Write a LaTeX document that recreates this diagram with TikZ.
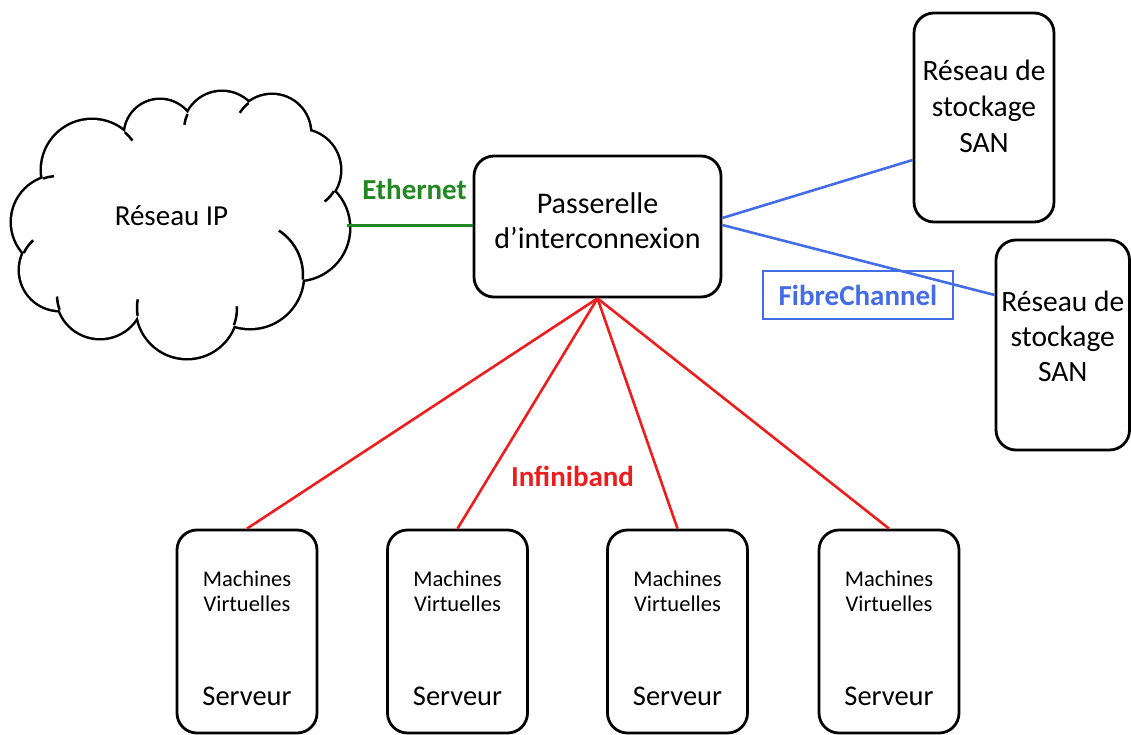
\documentclass[tikz,border=0pt]{standalone}
\usepackage{fontspec}
\setmainfont{Carlito}
\definecolor{ethgreen}{RGB}{34,134,34}
\definecolor{fcblue}{RGB}{68,108,228}
\definecolor{ibred}{RGB}{235,30,30}
\newcommand\boxtext[1]{\begin{tabular}[t]{@{}c@{}}#1\end{tabular}}
\begin{document}
\begin{tikzpicture}[x=1pt,y=-1pt,
    box/.style={draw,line width=2.8pt,rounded corners=20pt,inner sep=0pt},
    link/.style={line width=2.6pt},
    tag/.style={font=\fontsize{29}{35}\selectfont\bfseries,inner sep=0pt}]
    \useasboundingbox (0,0) rectangle (1131,735);
    % cloud
    \foreach \cx/\cy/\r in {58/222/46,92/170/50,160/135/35,222/130/38,272/133/38,300/170/40,297/228/52,250/275/53,187/308/50,100/295/43,60/270/40}
        \draw[line width=5pt] (\cx,\cy) circle[radius=\r];
    \foreach \cx/\cy/\r in {58/222/46,92/170/50,160/135/35,222/130/38,272/133/38,300/170/40,297/228/52,250/275/53,187/308/50,100/295/43,60/270/40}
        \fill[white] (\cx,\cy) circle[radius=\r];
    \fill[white] (58,222) -- (92,170) -- (160,135) -- (222,130) -- (272,133) -- (300,170) -- (297,228) -- (250,275) -- (187,308) -- (100,295) -- (60,270) -- cycle;
    \foreach \cx/\cy/\r/\a/\b in {250/275/53/5/-57,222/130/38/205/188,92/170/50/-49/-36,272/133/38/232/212,300/170/40/32/52,187/308/50/20/-2,187/308/50/171/190,100/295/43/160/178,60/270/40/205/228,58/222/46/251/265}
        \draw[line width=2.5pt] (\cx,\cy) ++(\a:\r) arc[start angle=\a,end angle=\b,radius=\r];
    \node[font=\fontsize{29}{35}\selectfont] (ip) at (171.5,216) {Réseau IP};
    \coordinate (ipE) at (347,225.5);
    % boxes
    \node[box,minimum width=247pt,minimum height=141pt,font=\fontsize{30}{35}\selectfont,text height=25pt,text depth=50pt] (gw) at (597.5,226.5) {\boxtext{Passerelle\\d'interconnexion}};
    \node[box,minimum width=140pt,minimum height=209pt,font=\fontsize{29.5}{36}\selectfont,text height=25pt,text depth=98pt] (san1) at (984,117.5) {\boxtext{Réseau de\\stockage\\SAN}};
    \node[box,minimum width=133.5pt,minimum height=210pt,font=\fontsize{29.5}{35}\selectfont,text height=25pt,text depth=93pt] (san2) at (1062.75,345) {\boxtext{Réseau de\\stockage\\SAN}};
    \foreach \i/\sx in {1/247,2/457.5,3/677.5,4/889}
        \node[box,minimum width=140pt,minimum height=203pt,font=\fontsize{22.5}{25}\selectfont,text height=20pt,text depth=111pt] (srv\i) at (\sx,631.5) {\boxtext{Machines\\Virtuelles\\[68pt]{\fontsize{28.5}{34}\selectfont Serveur}}};
    % links
    \draw[link,ethgreen] (ipE) -- (ipE -| gw.west);
    \draw[link,fcblue] ([yshift=8.5pt]gw.east) -- ([yshift=-42.5pt]san1.west);
    \draw[link,fcblue] ([yshift=1.5pt]gw.east) -- ([yshift=50pt]san2.west);
    \foreach \i in {1,...,4}
        \draw[link,ibred] (gw.south) -- (srv\i.north);
    % labels
    \node[tag,text=ethgreen] (eth) at (414.5,189) {Ethernet};
    \node[tag,text=ibred] (ib) at (572.5,476) {Infiniband};
    \node[tag,text=fcblue,draw=fcblue,line width=1.5pt,minimum width=190pt,minimum height=48pt] (fc) at (858,295) {FibreChannel};
\end{tikzpicture}
\end{document}
